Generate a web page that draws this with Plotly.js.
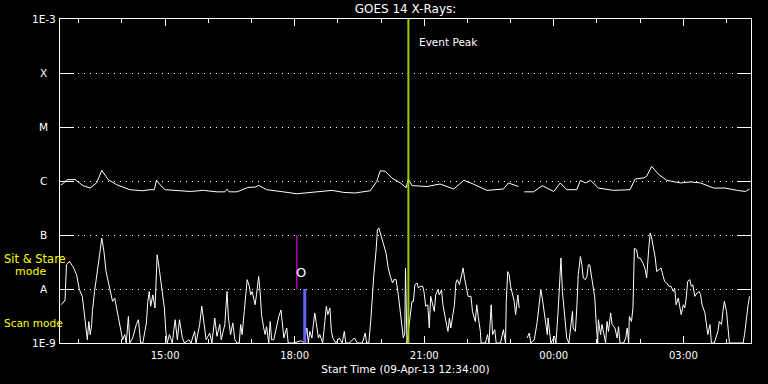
<!DOCTYPE html>
<html>
<head>
<meta charset="utf-8">
<script src="https://cdn.plot.ly/plotly-3.0.1.min.js"></script>
<style>html,body{margin:0;padding:0;background:#000;}#chart{width:768px;height:384px;}</style>
</head>
<body>
<div id="chart"></div>
<script>
// Start of plot: 09-Apr-13 12:34:00 ; times below are minutes after start
var startLabel = 'Start Time (09-Apr-13 12:34:00)';
var startMinuteOfDay = 12 * 60 + 34;
var endMinutes = 960;

// Long channel (upper curve), flux in W/m^2
var upperMinutes = [1,4,10,21,32,42,51,58,67,79,97,115,125,131,134,139,146,162,181,199,218,229,232,235,246,261,271,276,287,310,329,357,378,394,410,431,440,445,452,461,473,481,484,489,510,528,547,561,574,593,616,623,637,641,645,658,670,686,695,704,718,723,730,737,748,769,792,799,811,815,822,832,843,862,876,890,908,924,941,952,958];
var upperFlux = [8.5e-7,8.9e-7,1.06e-6,1.06e-6,8.2e-7,7.4e-7,9.3e-7,1.57e-6,1.06e-6,8.5e-7,6.9e-7,6.6e-7,6.9e-7,6.9e-7,1.03e-6,8.5e-7,6.9e-7,6.6e-7,6.4e-7,6.7e-7,6.3e-7,6.3e-7,7.0e-7,6.3e-7,6.3e-7,7.6e-7,7.7e-7,8.3e-7,6.9e-7,6.3e-7,5.8e-7,6.3e-7,6.7e-7,6.15e-7,6.0e-7,6.6e-7,9.8e-7,1.55e-6,1.51e-6,1.14e-6,9.2e-7,7.5e-7,1.09e-6,8.2e-7,7.9e-7,8.8e-7,7.1e-7,1.03e-6,8.8e-7,6.7e-7,7.1e-7,9.2e-7,7.9e-7,null,6.3e-7,6.3e-7,8.2e-7,6.4e-7,9.2e-7,6.9e-7,6.9e-7,1.03e-6,9.2e-7,1.03e-6,7.4e-7,6.7e-7,6.9e-7,1.09e-6,1.14e-6,1.22e-6,1.86e-6,1.31e-6,1.03e-6,9.2e-7,9.6e-7,9.2e-7,7.4e-7,7.4e-7,6.7e-7,6.4e-7,7.1e-7];

// Short channel (lower curve), flux in W/m^2
var lowerMinutes = [1,4,7,9,13,18,23,27,31,33,35,38,40,42,44,45,48,53,55,58,61,64,69,73,76,79,82,84,87,90,92,95,97,101,106,109,112,115,120,122,124,126,129,132,135,138,141,145,147,149,152,156,160,163,166,170,173,179,182,187,189,194,197,200,203,208,211,215,218,222,224,229,232,234,237,240,243,246,249,251,253,256,258,260,263,265,267,271,273,276,278,280,283,285,287,290,292,294,297,301,304,307,309,311,315,317,321,325,335,339,343,345,347,350,352,354,356,359,361,365,368,370,372,375,377,379,383,388,392,395,397,402,409,413,420,424,426,429,432,434,436,439,441,443,446,449,453,456,459,462,464,467,470,473,475,477,479,480,482,486,489,491,493,496,498,500,504,506,508,511,513,515,517,520,522,525,527,530,532,534,537,539,541,543,546,548,550,552,555,557,560,562,564,567,571,573,577,579,581,584,585,591,594,596,599,601,604,606,612,616,619,620,622,624,626,629,631,633,636,638,641,649,652,654,659,663,665,668,670,672,674,677,678,680,682,687,689,692,694,696,698,700,702,704,707,710,712,713,716,718,720,723,725,727,730,732,734,736,738,740,743,745,747,748,751,753,755,758,760,762,765,767,771,774,776,778,783,786,788,790,791,794,796,798,801,803,806,810,813,815,818,820,822,825,827,829,832,835,838,840,843,846,849,852,854,856,859,861,863,866,868,870,872,875,877,879,882,885,888,890,892,896,898,900,903,905,909,914,916,919,921,923,926,928,930,935,944,949,951,954,956,958];
var lowerFlux = [5.1e-9,5.5e-9,6.3e-9,2.8e-8,3.25e-8,2.6e-8,1.84e-8,9.7e-9,7.3e-9,4.45e-9,2.35e-9,1.15e-9,2.5e-9,1.43e-9,2.2e-9,3.85e-9,9.0e-9,2.45e-8,4.3e-8,8.8e-8,5.0e-8,2.1e-8,9.7e-9,5.9e-9,6.8e-9,4.1e-9,2.5e-9,1.64e-9,1.15e-9,1.43e-9,1e-9,3.1e-9,1e-9,1.24e-9,2.2e-9,2.7e-9,1e-9,1e-9,2.35e-9,5.9e-9,9.0e-9,4.8e-9,7.8e-9,4.45e-9,4.3e-8,2.3e-8,1.2e-8,4.45e-9,1.64e-9,1e-9,1.43e-9,1e-9,2.7e-9,1.15e-9,2.7e-9,1.24e-9,1e-9,1.15e-9,1e-9,1.64e-9,1e-9,2.2e-9,4.8e-9,2.5e-9,1.15e-9,1.53e-9,1e-9,2.9e-9,1.33e-9,2.2e-9,1.15e-9,2.2e-9,9.0e-9,2.9e-9,1.43e-9,2.35e-9,1.15e-9,1e-9,1e-9,2.2e-9,1.43e-9,3.85e-9,6.8e-9,1.49e-8,1.12e-8,7.8e-9,9.0e-9,5.1e-9,7.8e-9,1.71e-8,9.0e-9,3.35e-9,1.9e-9,1.43e-9,2.0e-9,1e-9,2.5e-9,1.15e-9,1.15e-9,2.2e-9,3.1e-9,4.1e-9,2.2e-9,1.24e-9,1.9e-9,1e-9,1e-9,1e-9,1.1e-9,1e-9,1.9e-9,1e-9,1.64e-9,1.24e-9,2.2e-9,3.6e-9,2.35e-9,1.24e-9,1.43e-9,1e-9,2.5e-9,4.8e-9,3.35e-9,4.45e-9,1.64e-9,1.24e-9,1e-9,1.24e-9,1e-9,1.64e-9,1e-9,1e-9,1.24e-9,1e-9,1e-9,1.53e-9,1e-9,1e-9,2.9e-9,9.0e-9,1.84e-8,5.0e-8,1.25e-7,1.35e-7,1.01e-7,7.1e-8,4.6e-8,2.45e-8,1.71e-8,1.29e-8,1.49e-8,1.49e-8,7.8e-9,3.85e-9,2.2e-9,1.24e-9,1.53e-9,2.45e-8,1e-9,2.9e-9,5.9e-9,5.9e-9,1.2e-8,1.29e-8,1.04e-8,1.12e-8,1.12e-8,8.4e-9,4.8e-9,5.1e-9,1.9e-9,7.3e-9,5.9e-9,3.85e-9,7.8e-9,9.7e-9,7.8e-9,9.7e-9,5.1e-9,3.35e-9,2.2e-9,1.64e-9,2.9e-9,1.9e-9,3.1e-9,5.1e-9,1.29e-8,1.49e-8,1.2e-8,1.71e-8,2.45e-8,1.6e-8,1.12e-8,7.3e-9,7.3e-9,3.85e-9,2.5e-9,5.1e-9,3.1e-9,1.64e-9,1e-9,1e-9,1.43e-9,1e-9,5.1e-9,1.43e-9,1.76e-9,1e-9,1e-9,1.76e-9,1e-9,5.9e-9,2.1e-8,1.84e-8,1.12e-8,7.3e-9,5.9e-9,3.35e-9,7.8e-9,4.45e-9,null,1.24e-9,1.53e-9,1e-9,1.15e-9,2.5e-9,4.45e-9,9.7e-9,6.8e-9,4.45e-9,3.35e-9,1.43e-9,2.9e-9,1.43e-9,1e-9,1.33e-9,1e-9,3.85e-9,1.2e-8,3.75e-8,9.0e-9,4.45e-9,1.9e-9,1.24e-9,1e-9,2.5e-9,3.85e-9,1.9e-9,1.64e-9,4.45e-9,1.84e-8,4.0e-8,2.8e-8,1.6e-8,1.49e-8,1.71e-8,2.8e-8,2.8e-8,1.84e-8,1.12e-8,6.8e-9,2.2e-9,1e-9,2.7e-9,1.43e-9,2.2e-9,1.53e-9,1e-9,2.5e-9,1.64e-9,3.6e-9,2.2e-9,1.9e-9,1.24e-9,2.0e-9,1e-9,1e-9,1.24e-9,1.9e-9,1e-9,3.1e-9,2.5e-9,4.45e-9,5.7e-8,5.3e-8,3.75e-8,3.75e-8,3.0e-8,2.3e-8,1.6e-8,5.7e-8,1.09e-7,8.8e-8,5.7e-8,3.75e-8,2.1e-8,2.3e-8,2.45e-8,1.71e-8,1.38e-8,1.29e-8,1.12e-8,1.12e-8,9.0e-9,1.04e-8,5.1e-9,6.8e-9,4.45e-9,3.35e-9,5.1e-9,4.45e-9,6.8e-9,1.38e-8,1.49e-8,1.12e-8,1.2e-8,7.3e-9,8.4e-9,9.0e-9,7.8e-9,5.1e-9,3.6e-9,2.2e-9,1.43e-9,2.2e-9,1e-9,1e-9,1.64e-9,2.5e-9,2.2e-9,3.85e-9,5.9e-9,3.85e-9,2.2e-9,1e-9,1e-9,1e-9,1e-9,1.43e-9,3.35e-9,5.1e-9,7.3e-9];

// Y axis class levels
var levelFlux = [1e-9, 1e-8, 1e-7, 1e-6, 1e-5, 1e-4, 1e-3];
var levelLabels = ['1E-9', 'A', 'B', 'C', 'M', 'X', '1E-3'];

// Markers
var eventPeakMinute = 484;          // Event Peak (~20:38)
var obsLineMinute = 329;            // magenta observation line (~18:03)
var obsLineFlux = [1e-8, 1e-7];
var obsLabel = 'O';
var scanBarMinute = 340;            // blue bar (~18:14)
var scanBarFlux = [1e-9, 1e-8];

function pad(n) { return (n < 10 ? '0' : '') + n; }
function toTime(m) {
  var total = startMinuteOfDay + m;
  var day = 9 + Math.floor(total / 1440);
  var mod = total % 1440;
  var h = Math.floor(mod / 60), mi = Math.round(mod % 60);
  return '2013-04-' + pad(day) + ' ' + pad(h) + ':' + pad(mi) + ':00';
}

var font = 'DejaVu Sans';
var traces = [
  {x: upperMinutes.map(toTime), y: upperFlux, type: 'scatter', mode: 'lines',
   line: {color: '#ffffff', width: 1}, connectgaps: false, hoverinfo: 'skip'},
  {x: lowerMinutes.map(toTime), y: lowerFlux, type: 'scatter', mode: 'lines',
   line: {color: '#ffffff', width: 1}, connectgaps: false, hoverinfo: 'skip'},
  {x: [toTime(obsLineMinute), toTime(obsLineMinute)], y: obsLineFlux, type: 'scatter', mode: 'lines',
   line: {color: '#c800c8', width: 1.3}, hoverinfo: 'skip'},
  {x: [toTime(scanBarMinute), toTime(scanBarMinute)], y: scanBarFlux, type: 'scatter', mode: 'lines',
   line: {color: '#6464ff', width: 3}, hoverinfo: 'skip'},
  {x: [toTime(eventPeakMinute), toTime(eventPeakMinute)], y: [levelFlux[0], levelFlux[6]], type: 'scatter', mode: 'lines',
   line: {color: '#9acd00', width: 2}, hoverinfo: 'skip'}
];

var annotations = levelLabels.map(function (t, i) {
  return {text: t, xref: 'paper', x: -0.0232, xanchor: 'center', yref: 'y', y: Math.log10(levelFlux[i]),
          yanchor: 'middle', showarrow: false, font: {family: font, size: 10.5, color: '#ffffff'}};
});
annotations.push(
  {text: 'Sit & Stare', xref: 'paper', x: -0.0843, xanchor: 'left', yref: 'paper', y: 0.259, yanchor: 'middle',
   showarrow: false, font: {family: font, size: 11.5, color: '#ffff00'}},
  {text: 'mode', xref: 'paper', x: -0.0685, xanchor: 'left', yref: 'paper', y: 0.2222, yanchor: 'middle',
   showarrow: false, font: {family: font, size: 11, color: '#ffff00'}},
  {text: 'Scan mode', xref: 'paper', x: -0.0843, xanchor: 'left', yref: 'paper', y: 0.0602, yanchor: 'middle',
   showarrow: false, font: {family: font, size: 10.5, color: '#ffff00'}},
  {text: 'Event Peak', xref: 'x', x: toTime(eventPeakMinute), xshift: 9, xanchor: 'left', yref: 'paper', y: 0.9275, yanchor: 'middle',
   showarrow: false, font: {family: font, size: 10.5, color: '#ffffff'}},
  {text: obsLabel, xref: 'x', x: toTime(obsLineMinute), xshift: 4.5, xanchor: 'center', yref: 'paper', y: 0.2176, yanchor: 'middle',
   showarrow: false, font: {family: font, size: 13, color: '#ffffff'}}
);

var layout = {
  width: 768, height: 384,
  margin: {l: 60, r: 17, t: 19, b: 41, pad: 0},
  paper_bgcolor: '#000000', plot_bgcolor: '#000000',
  showlegend: false,
  font: {family: font, color: '#ffffff', size: 10},
  title: {text: 'GOES 14 X-Rays:', x: 0.5, xref: 'paper', xanchor: 'center', y: 1 - 9 / 384, yref: 'container', yanchor: 'middle',
          font: {family: font, size: 12, color: '#ffffff'}},
  xaxis: {
    type: 'date', range: [toTime(0), toTime(endMinutes)],
    tick0: '2013-04-09 15:00:00', dtick: 3 * 3600000, tickformat: '%H:%M',
    ticks: 'inside', ticklen: 7, tickwidth: 1, tickcolor: '#ffffff',
    minor: {tick0: '2013-04-09 13:00:00', dtick: 3600000, ticks: 'inside', ticklen: 4, tickwidth: 1, tickcolor: '#ffffff', showgrid: false},
    showline: true, linecolor: '#ffffff', linewidth: 1, mirror: 'allticks',
    showgrid: false, zeroline: false, ticklabelstandoff: 3,
    tickfont: {family: font, size: 10, color: '#ffffff'},
    title: {text: startLabel, font: {family: font, size: 10.5, color: '#ffffff'}, standoff: 5},
    automargin: false, fixedrange: true
  },
  yaxis: {
    type: 'log', range: [-9, -3],
    tickvals: levelFlux, showticklabels: false,
    ticks: 'inside', ticklen: 14, tickwidth: 1, tickcolor: '#ffffff',
    showline: true, linecolor: '#ffffff', linewidth: 1, mirror: 'allticks',
    showgrid: true, gridcolor: '#ffffff', gridwidth: 1, griddash: '1px,5px',
    zeroline: false, automargin: false, fixedrange: true
  },
  annotations: annotations
};

Plotly.newPlot('chart', traces, layout, {staticPlot: true, displayModeBar: false});
</script>
</body>
</html>
